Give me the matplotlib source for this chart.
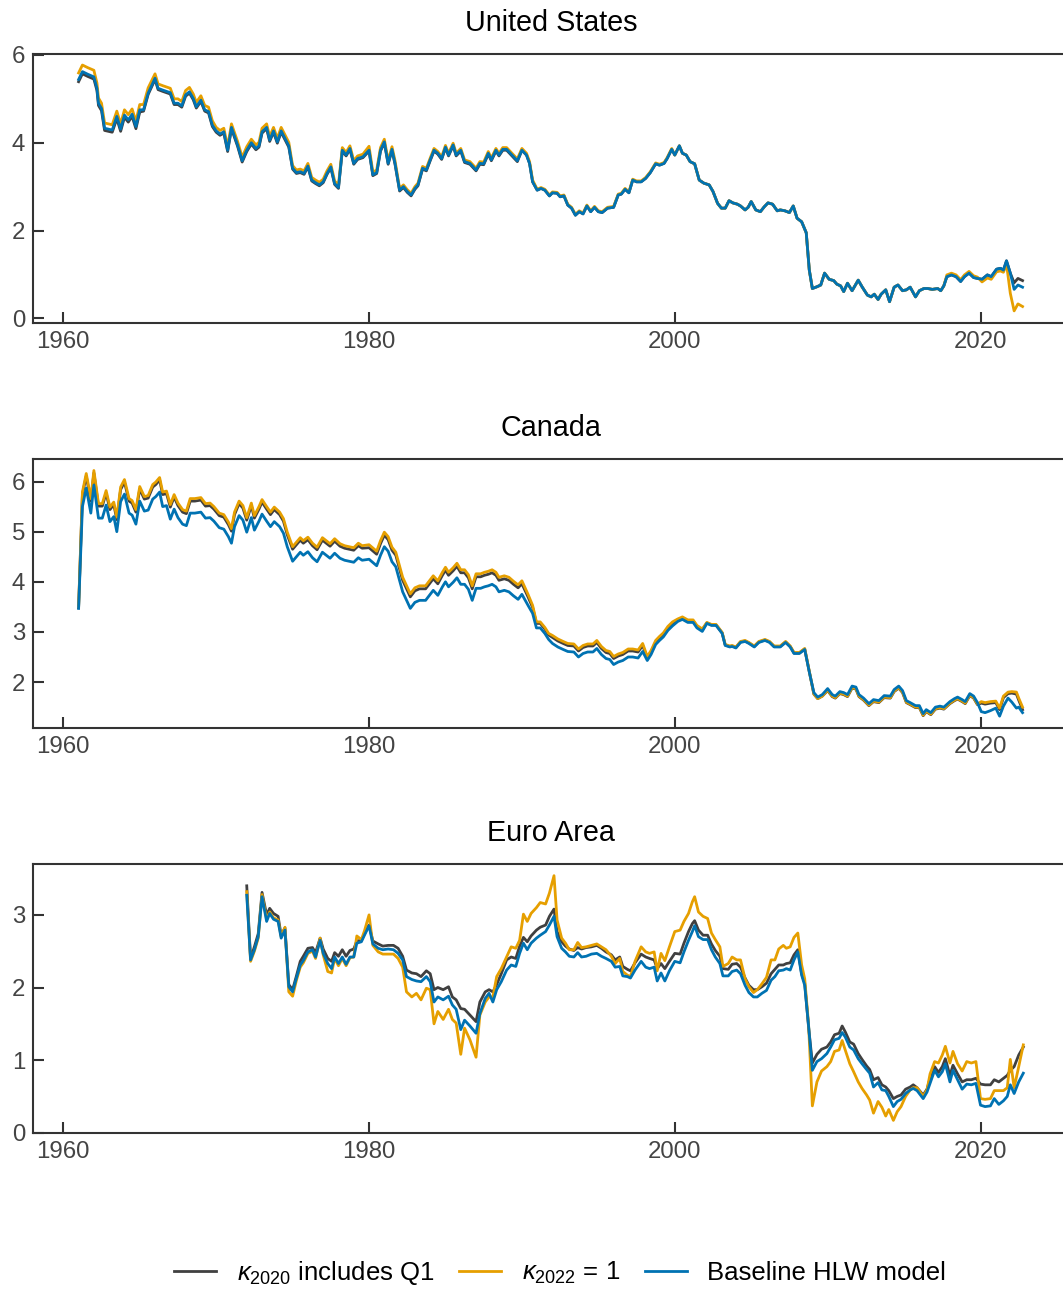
import matplotlib
matplotlib.use('Agg')
import matplotlib.pyplot as plt

plt.rcParams['font.family'] = ['Liberation Sans', 'DejaVu Sans']
plt.rcParams['mathtext.fontset'] = 'custom'
plt.rcParams['mathtext.rm'] = 'Liberation Sans'
plt.rcParams['mathtext.it'] = 'Liberation Sans:italic'

# ---- United States ----
us_years = [
    1961.0, 1961.25, 1961.6, 1962.0, 1962.2, 1962.3, 1962.5, 1962.7, 1963.2, 1963.5, 1963.75,
    1964.0, 1964.25, 1964.5, 1964.75, 1965.0, 1965.25, 1965.55, 1966.0, 1966.2, 1966.5, 1967.0,
    1967.25, 1967.5, 1967.75, 1968.0, 1968.25, 1968.5, 1968.7, 1969.0, 1969.25, 1969.5, 1969.75,
    1970.0, 1970.25, 1970.5, 1970.75, 1971.0, 1971.25, 1971.4, 1971.7, 1972.0, 1972.3, 1972.6,
    1972.8, 1973.0, 1973.3, 1973.5, 1973.75, 1974.0, 1974.25, 1974.5, 1974.75, 1975.0, 1975.25,
    1975.5, 1975.75, 1976.0, 1976.25, 1976.5, 1976.75, 1977.0, 1977.25, 1977.5, 1977.75, 1978.0,
    1978.25, 1978.5, 1978.75, 1979.0, 1979.25, 1979.6,
    1980.0, 1980.25, 1980.5, 1980.75, 1981.0, 1981.25, 1981.5, 1981.7, 1982.0, 1982.25, 1982.5,
    1982.75, 1983.0, 1983.2, 1983.5, 1983.75, 1984.0, 1984.25, 1984.5, 1984.75, 1985.0, 1985.2,
    1985.5, 1985.7, 1986.0, 1986.25, 1986.6, 1987.0, 1987.25, 1987.5, 1987.8, 1988.0, 1988.3,
    1988.5, 1988.75, 1989.0, 1989.3, 1989.7,
    1990.0, 1990.3, 1990.5, 1990.7, 1991.0, 1991.25, 1991.5, 1991.8, 1992.0, 1992.3, 1992.5,
    1992.75, 1993.0, 1993.25, 1993.5, 1993.75, 1994.0, 1994.25, 1994.5, 1994.75, 1995.0, 1995.25,
    1995.6, 1996.0, 1996.3, 1996.5, 1996.75, 1997.0, 1997.25, 1997.5, 1997.8, 1998.1, 1998.4,
    1998.75, 1999.0, 1999.3, 1999.5, 1999.8,
    2000.0, 2000.3, 2000.5, 2000.75, 2001.0, 2001.3, 2001.6, 2001.9, 2002.25, 2002.5, 2002.8,
    2003.05, 2003.3, 2003.55, 2003.8, 2004.1, 2004.3, 2004.6, 2004.8, 2005.0, 2005.3, 2005.6,
    2005.85, 2006.1, 2006.4, 2006.7, 2006.9, 2007.2, 2007.5, 2007.75, 2008.0, 2008.3, 2008.6,
    2008.8, 2009.0, 2009.3, 2009.55, 2009.8,
    2010.1, 2010.4, 2010.6, 2010.85, 2011.05, 2011.3, 2011.6, 2012.0, 2012.25, 2012.6, 2012.85,
    2013.05, 2013.3, 2013.5, 2013.8, 2014.05, 2014.35, 2014.6, 2014.9, 2015.15, 2015.4, 2015.75,
    2016.0, 2016.3, 2016.55, 2016.85, 2017.2, 2017.4, 2017.6, 2017.8, 2018.1, 2018.4, 2018.7,
    2018.95, 2019.25, 2019.55, 2019.8, 2020.1, 2020.45, 2020.7, 2021.05, 2021.3, 2021.5, 2021.7,
    2021.95, 2022.2, 2022.45, 2022.75,
]
us_gray = [
    5.39, 5.57, 5.51, 5.45, 5.19, 4.85, 4.73, 4.28, 4.24, 4.55, 4.26, 4.58, 4.47, 4.60, 4.32, 4.70,
    4.72, 5.10, 5.44, 5.21, 5.17, 5.11, 4.87, 4.87, 4.81, 5.06, 5.13, 4.98, 4.79, 4.94, 4.72, 4.68, 4.37,
    4.24, 4.17, 4.22, 3.80, 4.32, 4.07, 3.92, 3.56, 3.80, 3.97, 3.84, 3.90, 4.22, 4.32, 4.03, 4.24,
    3.99, 4.24, 4.07, 3.90, 3.40, 3.30, 3.32, 3.28, 3.45, 3.13, 3.07, 3.02, 3.09, 3.28, 3.43, 3.05,
    2.96, 3.81, 3.70, 3.85, 3.51, 3.62, 3.66,
    3.81, 3.25, 3.30, 3.81, 4.00, 3.51, 3.83, 3.51, 2.90, 2.98, 2.87, 2.79, 2.94, 3.02, 3.40, 3.36,
    3.59, 3.81, 3.74, 3.62, 3.88, 3.70, 3.93, 3.70, 3.81, 3.55, 3.51, 3.36, 3.51, 3.50, 3.74, 3.59,
    3.81, 3.70, 3.83, 3.83, 3.72, 3.57,
    3.83, 3.72, 3.53, 3.11, 2.92, 2.96, 2.92, 2.79, 2.86, 2.85, 2.77, 2.79, 2.58, 2.51, 2.35, 2.43,
    2.38, 2.56, 2.43, 2.53, 2.43, 2.41, 2.51, 2.53, 2.81, 2.83, 2.94, 2.86, 3.15, 3.11, 3.11, 3.19,
    3.32, 3.52, 3.49, 3.53, 3.64, 3.85,
    3.72, 3.93, 3.76, 3.72, 3.57, 3.52, 3.15, 3.08, 3.04, 2.89, 2.62, 2.51, 2.51, 2.68, 2.63, 2.60,
    2.56, 2.47, 2.53, 2.66, 2.47, 2.43, 2.54, 2.63, 2.60, 2.45, 2.47, 2.45, 2.41, 2.56, 2.28, 2.20,
    1.95, 1.10, 0.68, 0.72, 0.76, 1.03,
    0.89, 0.86, 0.78, 0.74, 0.61, 0.80, 0.63, 0.87, 0.72, 0.53, 0.49, 0.55, 0.43, 0.55, 0.65, 0.38,
    0.71, 0.76, 0.63, 0.65, 0.71, 0.49, 0.63, 0.68, 0.68, 0.66, 0.68, 0.63, 0.74, 0.95, 0.99, 0.95,
    0.84, 0.95, 1.03, 0.93, 0.91, 0.89, 0.99, 0.95, 1.12, 1.14, 1.10, 1.31, 1.03, 0.81, 0.91, 0.86,
]
us_orange = [
    5.59, 5.77, 5.71, 5.65, 5.36, 5.02, 4.90, 4.45, 4.41, 4.72, 4.43, 4.75, 4.64, 4.77, 4.49, 4.87,
    4.87, 5.25, 5.57, 5.34, 5.30, 5.24, 5.00, 5.00, 4.94, 5.19, 5.26, 5.11, 4.92, 5.07, 4.85, 4.81, 4.50,
    4.35, 4.28, 4.33, 3.91, 4.43, 4.18, 4.03, 3.67, 3.91, 4.08, 3.95, 4.01, 4.33, 4.43, 4.14, 4.35,
    4.10, 4.35, 4.18, 4.01, 3.48, 3.38, 3.40, 3.36, 3.53, 3.21, 3.15, 3.10, 3.17, 3.36, 3.51, 3.13,
    3.04, 3.89, 3.78, 3.93, 3.59, 3.70, 3.74,
    3.92, 3.33, 3.38, 3.89, 4.08, 3.59, 3.91, 3.59, 2.96, 3.04, 2.93, 2.85, 3.00, 3.08, 3.46, 3.42,
    3.65, 3.87, 3.80, 3.68, 3.94, 3.76, 3.99, 3.76, 3.87, 3.61, 3.57, 3.42, 3.57, 3.56, 3.80, 3.65,
    3.87, 3.76, 3.89, 3.89, 3.78, 3.63,
    3.87, 3.76, 3.57, 3.15, 2.94, 2.98, 2.94, 2.81, 2.88, 2.87, 2.79, 2.81, 2.60, 2.53, 2.37, 2.45,
    2.40, 2.58, 2.45, 2.55, 2.45, 2.43, 2.53, 2.55, 2.83, 2.85, 2.96, 2.88, 3.17, 3.13, 3.13, 3.21,
    3.34, 3.54, 3.51, 3.55, 3.66, 3.87,
    3.72, 3.93, 3.76, 3.72, 3.57, 3.52, 3.15, 3.08, 3.04, 2.89, 2.62, 2.51, 2.51, 2.68, 2.63, 2.60,
    2.56, 2.47, 2.53, 2.66, 2.47, 2.43, 2.54, 2.63, 2.60, 2.45, 2.47, 2.45, 2.41, 2.56, 2.28, 2.20,
    1.95, 1.10, 0.68, 0.72, 0.76, 1.03,
    0.89, 0.86, 0.78, 0.74, 0.61, 0.80, 0.63, 0.87, 0.72, 0.53, 0.49, 0.55, 0.43, 0.55, 0.65, 0.38,
    0.71, 0.76, 0.63, 0.65, 0.71, 0.49, 0.63, 0.68, 0.68, 0.66, 0.68, 0.63, 0.74, 0.99, 1.03, 0.99,
    0.88, 0.99, 1.07, 0.97, 0.94, 0.83, 0.92, 0.89, 1.06, 1.08, 1.05, 1.24, 0.57, 0.17, 0.33, 0.27,
]
us_blue = [
    5.44, 5.62, 5.56, 5.50, 5.24, 4.90, 4.78, 4.33, 4.29, 4.60, 4.31, 4.63, 4.52, 4.65, 4.37, 4.75,
    4.75, 5.13, 5.47, 5.24, 5.20, 5.14, 4.90, 4.90, 4.84, 5.09, 5.16, 5.01, 4.82, 4.97, 4.75, 4.71, 4.40,
    4.27, 4.20, 4.25, 3.83, 4.35, 4.10, 3.95, 3.59, 3.83, 4.00, 3.87, 3.93, 4.25, 4.35, 4.06, 4.27,
    4.02, 4.27, 4.10, 3.93, 3.42, 3.32, 3.34, 3.30, 3.47, 3.15, 3.09, 3.04, 3.11, 3.30, 3.45, 3.07,
    2.98, 3.83, 3.72, 3.87, 3.53, 3.64, 3.68,
    3.83, 3.27, 3.32, 3.83, 4.02, 3.53, 3.85, 3.53, 2.92, 3.00, 2.89, 2.81, 2.96, 3.04, 3.42, 3.38,
    3.61, 3.83, 3.76, 3.64, 3.90, 3.72, 3.95, 3.72, 3.83, 3.57, 3.53, 3.38, 3.53, 3.52, 3.76, 3.61,
    3.83, 3.72, 3.85, 3.85, 3.74, 3.59,
    3.83, 3.72, 3.53, 3.11, 2.92, 2.96, 2.92, 2.79, 2.86, 2.85, 2.77, 2.79, 2.58, 2.51, 2.35, 2.43,
    2.38, 2.56, 2.43, 2.53, 2.43, 2.41, 2.51, 2.53, 2.81, 2.83, 2.94, 2.86, 3.15, 3.11, 3.11, 3.19,
    3.32, 3.52, 3.49, 3.53, 3.64, 3.85,
    3.72, 3.93, 3.76, 3.72, 3.57, 3.52, 3.15, 3.08, 3.04, 2.89, 2.62, 2.51, 2.51, 2.68, 2.63, 2.60,
    2.56, 2.47, 2.53, 2.66, 2.47, 2.43, 2.54, 2.63, 2.60, 2.45, 2.47, 2.45, 2.41, 2.56, 2.28, 2.20,
    1.95, 1.10, 0.68, 0.72, 0.76, 1.03,
    0.89, 0.86, 0.78, 0.74, 0.61, 0.80, 0.63, 0.87, 0.72, 0.53, 0.49, 0.55, 0.43, 0.55, 0.65, 0.38,
    0.71, 0.76, 0.63, 0.65, 0.71, 0.49, 0.63, 0.68, 0.68, 0.66, 0.68, 0.63, 0.74, 0.95, 0.99, 0.95,
    0.84, 0.95, 1.03, 0.93, 0.91, 0.89, 0.99, 0.95, 1.12, 1.14, 1.10, 1.31, 1.03, 0.66, 0.76, 0.71,
]

# ---- Canada ----
ca_years = [
    1961.0, 1961.25, 1961.5, 1961.8, 1962.0, 1962.3, 1962.55, 1962.8, 1963.05, 1963.3, 1963.5,
    1963.75, 1964.0, 1964.3, 1964.5, 1964.75, 1965.0, 1965.3, 1965.55, 1965.85, 1966.05, 1966.3,
    1966.5, 1966.75, 1967.0, 1967.25, 1967.5, 1967.8, 1968.05, 1968.3, 1968.6, 1969.0, 1969.3,
    1969.6, 1969.85,
    1970.2, 1970.5, 1970.8, 1971.0, 1971.2, 1971.5, 1971.75, 1972.0, 1972.3, 1972.5, 1972.8,
    1973.0, 1973.3, 1973.55, 1973.8, 1974.15, 1974.4, 1974.65, 1975.0, 1975.25, 1975.5, 1975.7,
    1976.0, 1976.3, 1976.6, 1976.95, 1977.2, 1977.45, 1977.75, 1978.1, 1978.4, 1978.7, 1979.0,
    1979.3, 1979.55,
    1980.0, 1980.5, 1980.75, 1981.0, 1981.25, 1981.5, 1981.75, 1982.2, 1982.7, 1983.0, 1983.3,
    1983.7, 1984.0, 1984.2, 1984.5, 1984.8, 1985.0, 1985.2, 1985.5, 1985.75, 1986.0, 1986.25,
    1986.5, 1986.75, 1987.0, 1987.3, 1987.55, 1987.8, 1988.05, 1988.3, 1988.5, 1988.85, 1989.15,
    1989.45, 1989.75,
    1990.0, 1990.4, 1990.7, 1990.95, 1991.2, 1991.5, 1991.75, 1992.0, 1992.35, 1992.7, 1993.0,
    1993.4, 1993.7, 1994.0, 1994.3, 1994.65, 1994.9, 1995.2, 1995.5, 1995.75, 1996.0, 1996.3,
    1996.6, 1996.95, 1997.25, 1997.6, 1997.9, 1998.2, 1998.45, 1998.75, 1999.0, 1999.25, 1999.55,
    1999.85,
    2000.2, 2000.5, 2000.85, 2001.2, 2001.45, 2001.8, 2002.1, 2002.4, 2002.7, 2002.95, 2003.1,
    2003.3, 2003.6, 2003.75, 2004.0, 2004.3, 2004.6, 2004.85, 2005.2, 2005.5, 2005.9, 2006.2,
    2006.5, 2006.9, 2007.25, 2007.55, 2007.8, 2008.15, 2008.5, 2008.8, 2009.1, 2009.35, 2009.65,
    2010.0, 2010.3, 2010.5, 2010.8, 2011.05, 2011.3, 2011.6, 2011.85, 2012.05, 2012.35, 2012.7,
    2013.0, 2013.35, 2013.7, 2014.1, 2014.35, 2014.65, 2014.9, 2015.15, 2015.4, 2015.75, 2016.0,
    2016.25, 2016.45, 2016.75, 2017.05, 2017.35, 2017.6, 2018.0, 2018.3, 2018.5, 2018.8, 2019.0,
    2019.3, 2019.55, 2019.8, 2020.05, 2020.3, 2020.65, 2021.0, 2021.25, 2021.5, 2021.8, 2022.05,
    2022.35, 2022.5, 2022.75,
]
ca_gray = [
    3.48, 5.74, 6.11, 5.61, 6.17, 5.51, 5.51, 5.77, 5.44, 5.54, 5.24, 5.84, 5.99, 5.61, 5.57, 5.39,
    5.85, 5.65, 5.67, 5.89, 5.94, 6.03, 5.74, 5.76, 5.49, 5.69, 5.52, 5.39, 5.36, 5.61, 5.61, 5.63,
    5.51, 5.52, 5.45,
    5.32, 5.29, 5.14, 5.01, 5.34, 5.56, 5.47, 5.23, 5.52, 5.27, 5.45, 5.59, 5.45, 5.34, 5.44, 5.34,
    5.21, 4.94, 4.65, 4.74, 4.83, 4.77, 4.84, 4.72, 4.64, 4.83, 4.77, 4.71, 4.81, 4.71, 4.67, 4.65,
    4.63, 4.72, 4.67,
    4.68, 4.55, 4.76, 4.93, 4.84, 4.63, 4.53, 4.03, 3.70, 3.82, 3.86, 3.86, 3.98, 4.06, 3.96, 4.13,
    4.23, 4.13, 4.22, 4.31, 4.18, 4.18, 4.08, 3.86, 4.10, 4.10, 4.13, 4.15, 4.18, 4.13, 4.03, 4.06,
    4.03, 3.95, 3.88,
    3.96, 3.70, 3.49, 3.17, 3.17, 3.06, 2.94, 2.89, 2.82, 2.77, 2.73, 2.72, 2.62, 2.69, 2.72, 2.72,
    2.79, 2.67, 2.59, 2.57, 2.47, 2.52, 2.55, 2.62, 2.62, 2.60, 2.73, 2.48, 2.60, 2.80, 2.88, 2.95,
    3.08, 3.17,
    3.24, 3.28, 3.22, 3.22, 3.11, 3.04, 3.18, 3.14, 3.14, 3.04, 2.98, 2.74, 2.71, 2.72, 2.69, 2.80,
    2.82, 2.78, 2.71, 2.80, 2.84, 2.80, 2.71, 2.71, 2.80, 2.71, 2.58, 2.58, 2.66, 2.21, 1.76, 1.67,
    1.72,
    1.83, 1.71, 1.68, 1.77, 1.75, 1.71, 1.88, 1.86, 1.71, 1.64, 1.53, 1.61, 1.59, 1.69, 1.68, 1.81,
    1.88, 1.79, 1.59, 1.55, 1.49, 1.49, 1.33, 1.41, 1.35, 1.46, 1.48, 1.46, 1.57, 1.63, 1.66, 1.61,
    1.57, 1.73, 1.68, 1.55, 1.58, 1.56, 1.58, 1.59, 1.45, 1.69, 1.77, 1.78, 1.76, 1.64, 1.45,
]
ca_orange = [
    3.50, 5.79, 6.16, 5.66, 6.22, 5.56, 5.56, 5.82, 5.49, 5.59, 5.29, 5.89, 6.04, 5.66, 5.62, 5.44,
    5.90, 5.70, 5.72, 5.94, 5.99, 6.08, 5.79, 5.81, 5.54, 5.74, 5.57, 5.44, 5.41, 5.66, 5.66, 5.68,
    5.56, 5.57, 5.50,
    5.37, 5.34, 5.19, 5.06, 5.39, 5.61, 5.52, 5.28, 5.57, 5.32, 5.50, 5.64, 5.50, 5.39, 5.49, 5.39,
    5.26, 4.99, 4.70, 4.79, 4.88, 4.82, 4.89, 4.77, 4.69, 4.88, 4.82, 4.76, 4.86, 4.76, 4.72, 4.70,
    4.68, 4.77, 4.72,
    4.74, 4.61, 4.82, 4.99, 4.90, 4.69, 4.59, 4.09, 3.76, 3.88, 3.92, 3.92, 4.04, 4.12, 4.02, 4.19,
    4.29, 4.19, 4.28, 4.37, 4.24, 4.24, 4.14, 3.92, 4.16, 4.16, 4.19, 4.21, 4.24, 4.19, 4.09, 4.12,
    4.09, 4.01, 3.94,
    4.02, 3.75, 3.53, 3.20, 3.20, 3.09, 2.97, 2.93, 2.86, 2.81, 2.77, 2.76, 2.66, 2.73, 2.76, 2.76,
    2.83, 2.71, 2.63, 2.61, 2.51, 2.56, 2.59, 2.66, 2.66, 2.64, 2.77, 2.51, 2.63, 2.83, 2.91, 2.98,
    3.11, 3.20,
    3.26, 3.30, 3.24, 3.24, 3.13, 3.06, 3.19, 3.15, 3.15, 3.05, 2.99, 2.75, 2.72, 2.73, 2.70, 2.81,
    2.83, 2.79, 2.72, 2.81, 2.85, 2.81, 2.72, 2.72, 2.81, 2.72, 2.59, 2.59, 2.67, 2.22, 1.76, 1.67,
    1.72,
    1.84, 1.72, 1.69, 1.78, 1.76, 1.72, 1.89, 1.87, 1.72, 1.65, 1.54, 1.62, 1.60, 1.70, 1.69, 1.82,
    1.89, 1.80, 1.60, 1.56, 1.50, 1.50, 1.34, 1.42, 1.36, 1.47, 1.49, 1.47, 1.58, 1.64, 1.67, 1.62,
    1.58, 1.74, 1.69, 1.56, 1.61, 1.59, 1.61, 1.62, 1.48, 1.72, 1.80, 1.81, 1.80, 1.68, 1.50,
]
ca_blue = [
    3.47, 5.50, 5.87, 5.37, 5.93, 5.27, 5.27, 5.53, 5.20, 5.30, 5.00, 5.60, 5.75, 5.37, 5.33, 5.15,
    5.61, 5.41, 5.43, 5.65, 5.70, 5.79, 5.50, 5.52, 5.25, 5.45, 5.28, 5.15, 5.12, 5.37, 5.37, 5.39,
    5.27, 5.28, 5.21,
    5.08, 5.05, 4.90, 4.77, 5.10, 5.32, 5.23, 4.99, 5.28, 5.03, 5.21, 5.35, 5.21, 5.10, 5.20, 5.10,
    4.97, 4.70, 4.41, 4.50, 4.59, 4.53, 4.60, 4.48, 4.40, 4.59, 4.53, 4.47, 4.57, 4.47, 4.43, 4.41,
    4.39, 4.48, 4.43,
    4.45, 4.32, 4.53, 4.70, 4.61, 4.40, 4.30, 3.80, 3.47, 3.59, 3.63, 3.63, 3.75, 3.83, 3.73, 3.90,
    4.00, 3.90, 3.99, 4.08, 3.95, 3.95, 3.85, 3.63, 3.87, 3.87, 3.90, 3.92, 3.95, 3.90, 3.80, 3.83,
    3.80, 3.72, 3.65,
    3.75, 3.53, 3.37, 3.08, 3.08, 2.97, 2.85, 2.77, 2.70, 2.65, 2.61, 2.60, 2.50, 2.57, 2.60, 2.60,
    2.67, 2.55, 2.47, 2.45, 2.35, 2.40, 2.43, 2.50, 2.50, 2.48, 2.61, 2.43, 2.55, 2.75, 2.83, 2.90,
    3.03, 3.12,
    3.21, 3.25, 3.19, 3.19, 3.08, 3.01, 3.17, 3.13, 3.13, 3.03, 2.97, 2.73, 2.70, 2.71, 2.68, 2.79,
    2.81, 2.77, 2.70, 2.79, 2.83, 2.79, 2.70, 2.70, 2.79, 2.70, 2.57, 2.57, 2.65, 2.20, 1.79, 1.70,
    1.75,
    1.87, 1.75, 1.72, 1.81, 1.79, 1.75, 1.92, 1.90, 1.75, 1.68, 1.57, 1.65, 1.63, 1.73, 1.72, 1.85,
    1.92, 1.83, 1.63, 1.59, 1.53, 1.53, 1.37, 1.45, 1.39, 1.50, 1.52, 1.50, 1.61, 1.67, 1.70, 1.65,
    1.61, 1.77, 1.72, 1.59, 1.41, 1.39, 1.43, 1.48, 1.32, 1.52, 1.68, 1.60, 1.48, 1.50, 1.39,
]

# ---- Euro Area ----
ea_years = [
    1972.0, 1972.25, 1972.5, 1972.75, 1973.0, 1973.3, 1973.5, 1973.75, 1974.05, 1974.25, 1974.5,
    1974.75, 1975.0, 1975.25, 1975.5, 1975.7, 1976.0, 1976.3, 1976.5, 1976.8, 1977.0, 1977.3,
    1977.55, 1977.75, 1978.0, 1978.25, 1978.5, 1978.75, 1979.0, 1979.2, 1979.5, 1979.7,
    1980.0, 1980.25, 1980.6, 1980.9, 1981.25, 1981.6, 1981.9, 1982.2, 1982.45, 1982.8, 1983.1,
    1983.4, 1983.75, 1984.0, 1984.25, 1984.5, 1984.85, 1985.2, 1985.45, 1985.7, 1986.0, 1986.25,
    1986.6, 1987.0, 1987.25, 1987.6, 1987.85, 1988.1, 1988.35, 1988.65, 1989.0, 1989.3, 1989.6,
    1989.85,
    1990.1, 1990.35, 1990.6, 1990.95, 1991.2, 1991.55, 1991.8, 1992.1, 1992.3, 1992.6, 1992.85,
    1993.1, 1993.4, 1993.65, 1993.9, 1994.2, 1994.55, 1994.9, 1995.2, 1995.5, 1995.85, 1996.1,
    1996.4, 1996.6, 1996.9, 1997.1, 1997.4, 1997.8, 1998.1, 1998.35, 1998.65, 1998.85, 1999.1,
    1999.35, 1999.65,
    2000.0, 2000.35, 2000.6, 2000.9, 2001.15, 2001.3, 2001.55, 2001.85, 2002.15, 2002.4, 2002.65,
    2002.95, 2003.15, 2003.5, 2003.75, 2004.05, 2004.3, 2004.6, 2004.85, 2005.15, 2005.4, 2005.7,
    2006.0, 2006.3, 2006.55, 2006.8, 2007.1, 2007.3, 2007.55, 2007.8, 2008.05, 2008.3, 2008.5,
    2008.75, 2009.0, 2009.3, 2009.6, 2009.95,
    2010.2, 2010.45, 2010.75, 2010.95, 2011.15, 2011.45, 2011.7, 2012.0, 2012.25, 2012.55, 2012.75,
    2013.0, 2013.3, 2013.55, 2013.8, 2014.0, 2014.3, 2014.55, 2014.8, 2015.1, 2015.4, 2015.6,
    2015.85, 2016.25, 2016.5, 2016.7, 2017.0, 2017.25, 2017.5, 2017.7, 2018.0, 2018.2, 2018.5,
    2018.8, 2019.1, 2019.4, 2019.7, 2020.0, 2020.3, 2020.65, 2020.9, 2021.2, 2021.5, 2021.75,
    2021.95, 2022.2, 2022.5, 2022.8,
]
ea_gray = [
    3.40, 2.40, 2.56, 2.74, 3.31, 3.00, 3.09, 3.02, 2.98, 2.72, 2.82, 2.04, 1.97, 2.16, 2.36, 2.43,
    2.54, 2.55, 2.48, 2.68, 2.53, 2.40, 2.36, 2.48, 2.43, 2.52, 2.43, 2.51, 2.53, 2.64, 2.65, 2.74,
    2.86, 2.64, 2.60, 2.57, 2.58, 2.58, 2.54, 2.43, 2.24, 2.20, 2.19, 2.15, 2.23, 2.19, 1.97, 2.00,
    1.97, 2.01, 1.87, 1.83, 1.71, 1.70, 1.62, 1.53, 1.80, 1.94, 1.97, 1.94, 2.04, 2.19, 2.38, 2.42,
    2.40, 2.57,
    2.69, 2.63, 2.71, 2.79, 2.83, 2.86, 2.98, 3.08, 2.77, 2.63, 2.57, 2.53, 2.51, 2.55, 2.53, 2.55,
    2.56, 2.58, 2.54, 2.49, 2.45, 2.38, 2.42, 2.29, 2.25, 2.23, 2.34, 2.46, 2.42, 2.40, 2.38, 2.26,
    2.33, 2.26, 2.36,
    2.47, 2.46, 2.61, 2.77, 2.88, 2.92, 2.79, 2.72, 2.72, 2.60, 2.51, 2.43, 2.26, 2.25, 2.32, 2.33,
    2.28, 2.13, 2.03, 1.97, 1.97, 2.01, 2.06, 2.19, 2.25, 2.31, 2.31, 2.33, 2.34, 2.45, 2.52, 2.19,
    2.06, 1.46, 0.96, 1.08, 1.15, 1.18,
    1.25, 1.35, 1.37, 1.47, 1.39, 1.25, 1.22, 1.09, 1.01, 0.92, 0.87, 0.73, 0.76, 0.66, 0.63, 0.58,
    0.47, 0.50, 0.52, 0.60, 0.63, 0.66, 0.62, 0.52, 0.60, 0.75, 0.91, 0.83, 0.91, 1.02, 0.79, 0.93,
    0.81, 0.70, 0.73, 0.73, 0.75, 0.67, 0.66, 0.66, 0.73, 0.70, 0.75, 0.79, 0.86, 0.91, 1.07, 1.18,
]
ea_orange = [
    3.32, 2.36, 2.50, 2.68, 3.28, 2.94, 3.04, 2.96, 2.93, 2.70, 2.83, 1.94, 1.88, 2.10, 2.28, 2.34,
    2.47, 2.50, 2.40, 2.68, 2.45, 2.22, 2.20, 2.40, 2.30, 2.40, 2.30, 2.41, 2.42, 2.71, 2.66, 2.78,
    3.00, 2.58, 2.49, 2.46, 2.46, 2.46, 2.40, 2.28, 1.94, 1.87, 1.92, 1.83, 1.99, 1.97, 1.50, 1.67,
    1.56, 1.70, 1.56, 1.51, 1.08, 1.44, 1.28, 1.04, 1.62, 1.80, 1.87, 1.87, 2.15, 2.26, 2.42, 2.56,
    2.54, 2.65,
    3.01, 2.91, 3.02, 3.10, 3.17, 3.15, 3.30, 3.54, 2.93, 2.68, 2.61, 2.52, 2.52, 2.62, 2.55, 2.56,
    2.58, 2.60, 2.56, 2.52, 2.43, 2.33, 2.40, 2.22, 2.17, 2.15, 2.36, 2.56, 2.49, 2.47, 2.49, 2.23,
    2.47, 2.37, 2.56,
    2.77, 2.79, 2.91, 3.02, 3.18, 3.25, 3.04, 2.98, 2.95, 2.75, 2.66, 2.56, 2.29, 2.33, 2.42, 2.38,
    2.38, 2.12, 2.01, 1.93, 1.97, 2.05, 2.14, 2.38, 2.38, 2.53, 2.58, 2.54, 2.56, 2.69, 2.75, 2.31,
    2.12, 1.50, 0.37, 0.70, 0.85, 0.91,
    0.98, 1.12, 1.14, 1.27, 1.14, 0.95, 0.84, 0.70, 0.61, 0.52, 0.45, 0.27, 0.43, 0.35, 0.23, 0.32,
    0.17, 0.29, 0.36, 0.50, 0.59, 0.62, 0.62, 0.50, 0.59, 0.81, 0.98, 0.96, 1.07, 1.19, 0.96, 1.12,
    0.95, 0.85, 0.98, 0.96, 0.98, 0.47, 0.46, 0.47, 0.58, 0.58, 0.58, 0.62, 1.01, 0.62, 0.91, 1.21,
]
ea_blue = [
    3.27, 2.38, 2.52, 2.70, 3.25, 2.91, 3.02, 2.94, 2.91, 2.68, 2.79, 2.01, 1.94, 2.13, 2.31, 2.37,
    2.49, 2.52, 2.42, 2.65, 2.47, 2.33, 2.26, 2.42, 2.33, 2.42, 2.32, 2.42, 2.42, 2.61, 2.63, 2.72,
    2.85, 2.60, 2.54, 2.52, 2.53, 2.52, 2.47, 2.38, 2.15, 2.11, 2.09, 2.08, 2.15, 2.08, 1.80, 1.87,
    1.83, 1.88, 1.76, 1.70, 1.42, 1.55, 1.47, 1.37, 1.64, 1.85, 1.92, 1.80, 1.97, 2.08, 2.24, 2.31,
    2.29, 2.47,
    2.61, 2.52, 2.61, 2.68, 2.72, 2.77, 2.86, 2.98, 2.70, 2.54, 2.49, 2.43, 2.42, 2.48, 2.42, 2.43,
    2.46, 2.47, 2.43, 2.40, 2.36, 2.28, 2.29, 2.16, 2.15, 2.13, 2.24, 2.36, 2.28, 2.26, 2.28, 2.09,
    2.20, 2.09, 2.23,
    2.36, 2.34, 2.49, 2.65, 2.77, 2.85, 2.70, 2.66, 2.66, 2.52, 2.42, 2.33, 2.16, 2.16, 2.22, 2.24,
    2.19, 2.03, 1.93, 1.87, 1.87, 1.92, 1.96, 2.10, 2.15, 2.23, 2.24, 2.26, 2.24, 2.38, 2.49, 2.17,
    2.03, 1.48, 0.86, 0.98, 1.02, 1.09,
    1.18, 1.28, 1.30, 1.38, 1.32, 1.18, 1.14, 1.02, 0.95, 0.87, 0.82, 0.63, 0.69, 0.59, 0.58, 0.50,
    0.36, 0.43, 0.46, 0.54, 0.59, 0.61, 0.58, 0.47, 0.56, 0.68, 0.86, 0.77, 0.84, 0.95, 0.70, 0.86,
    0.73, 0.60, 0.67, 0.66, 0.68, 0.38, 0.36, 0.37, 0.47, 0.39, 0.44, 0.50, 0.66, 0.54, 0.70, 0.82,
]

labels = [r'$\kappa_{2020}$ includes Q1', r'$\kappa_{2022}$ = 1', 'Baseline HLW model']
colors = ['#404040', '#E69F00', '#0072B2']

panels = [
    ('United States', us_years, [us_gray, us_orange, us_blue], (-0.1, 6.02), [0, 2, 4, 6]),
    ('Canada', ca_years, [ca_gray, ca_orange, ca_blue], (1.09, 6.45), [2, 3, 4, 5, 6]),
    ('Euro Area', ea_years, [ea_gray, ea_orange, ea_blue], (0, 3.70), [0, 1, 2, 3]),
]
bottoms = [0.7498, 0.4359, 0.1219]

fig = plt.figure(figsize=(10.63, 12.9), dpi=100)

handles = []
for (title, years, series, ylim, yticks), bottom in zip(panels, bottoms):
    ax = fig.add_axes([0.0308, bottom, 0.975, 0.2083])
    handles = []
    for vals, col, lab in zip(series, colors, labels):
        line, = ax.plot(years, vals, color=col, lw=2.0, label=lab)
        handles.append(line)
    ax.set_xlim(1958, 2025.8)
    ax.set_ylim(*ylim)
    ax.set_xticks([1960, 1980, 2000, 2020])
    ax.set_yticks(yticks)
    ax.set_title(title, fontsize=20.7, pad=16.5, color='black')
    ax.spines['right'].set_visible(False)
    for side in ['left', 'top', 'bottom']:
        ax.spines[side].set_color('#333333')
        ax.spines[side].set_linewidth(1.5)
    ax.tick_params(axis='both', direction='in', length=8, width=1.5, color='#333333',
                   labelcolor='#444444', labelsize=17.3)
    ax.tick_params(axis='x', pad=6)
    ax.tick_params(axis='y', pad=5.5)

fig.legend(handles, labels, loc='center', bbox_to_anchor=(0.527, 0.013), ncol=3,
           frameon=False, fontsize=18.5, handlelength=1.65, handletextpad=0.8,
           columnspacing=0.95)

fig.savefig('out.png', dpi=100)
